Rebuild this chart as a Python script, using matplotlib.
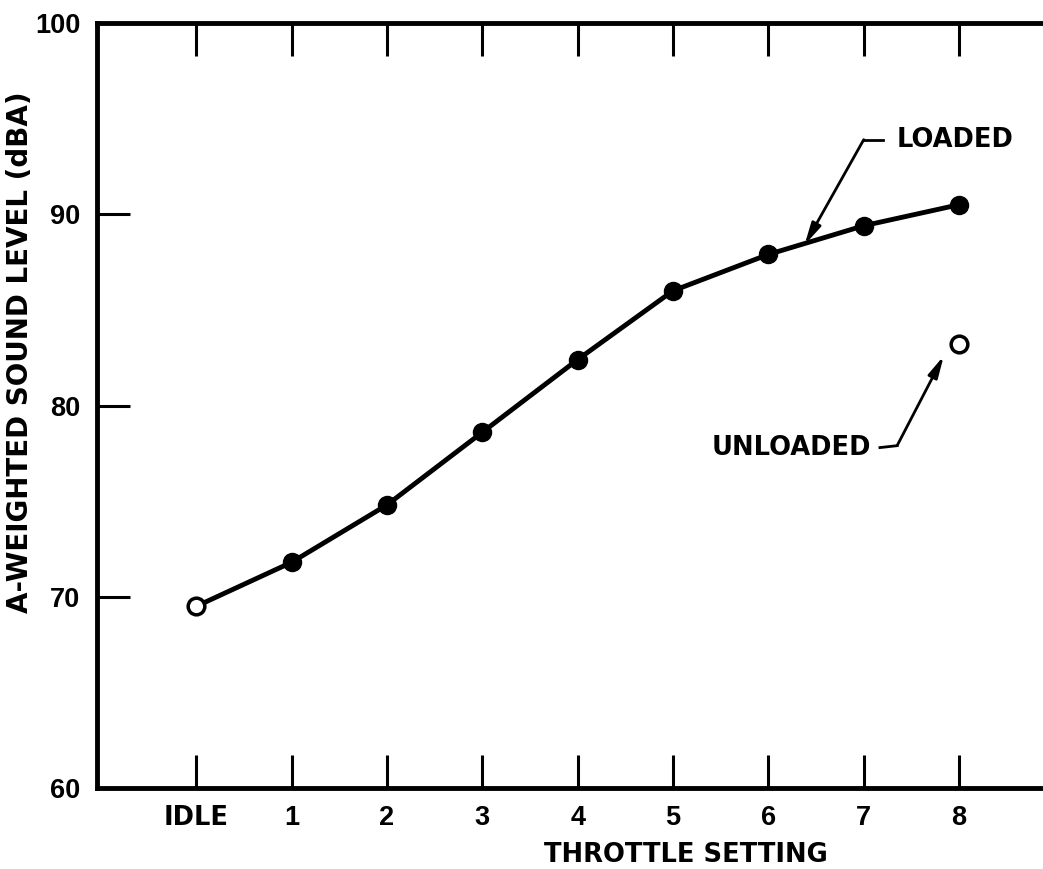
import matplotlib
matplotlib.use("Agg")
import matplotlib.pyplot as plt

# Data
settings = ["IDLE", "1", "2", "3", "4", "5", "6", "7", "8"]
positions = [0, 1, 2, 3, 4, 5, 6, 7, 8]
loaded_levels = [69.5, 71.8, 74.8, 78.6, 82.4, 86.0, 87.9, 89.4, 90.5]
unloaded_x = [8]
unloaded_levels = [83.2]
y_ticks = [60, 70, 80, 90, 100]

plt.rcParams['font.family'] = ['DejaVu Sans']
plt.rcParams['font.weight'] = 'bold'

FS = 18.5

fig = plt.figure(figsize=(10.43, 8.69), dpi=100)
ax = fig.add_axes([0.093, 0.0932, 0.907, 0.8803])

ax.plot(positions, loaded_levels, color='black', lw=3.5, zorder=2)
ax.plot(positions[1:], loaded_levels[1:], 'o', color='black', ms=13, zorder=3)
ax.plot(positions[0], loaded_levels[0], 'o', mfc='white', mec='black', mew=2.5, ms=12, zorder=3)
ax.plot(unloaded_x, unloaded_levels, 'o', mfc='white', mec='black', mew=2.5, ms=12, zorder=3)

ax.set_xlim(-1.04, 8.88)
ax.set_ylim(60, 100)
ax.set_xticks(positions)
ax.set_xticklabels(settings, fontsize=FS, fontweight='bold')
ax.set_yticks(y_ticks)
ax.set_yticklabels([str(v) for v in y_ticks], fontfamily=['Liberation Sans'],
                   fontsize=FS + 1, fontweight='bold')

for s in ['left', 'bottom', 'top']:
    ax.spines[s].set_linewidth(3.5)
ax.spines['right'].set_visible(False)

ax.tick_params(axis='x', direction='in', length=24, width=2.2, top=True, bottom=True, pad=12)
ax.tick_params(axis='y', direction='in', length=24, width=2.2, left=True, right=False, pad=12)
for t in ax.yaxis.get_major_ticks():
    if t.get_loc() in (60, 100):
        t.tick1line.set_visible(False)
        t.tick2line.set_visible(False)

for lab in ax.get_xticklabels():
    if lab.get_text() != "IDLE":
        lab.set_fontfamily(['Liberation Sans'])
        lab.set_fontsize(FS + 1)

ax.set_xlabel("THROTTLE SETTING", fontsize=FS, fontweight='bold', va='center')
ax.set_ylabel("A-WEIGHTED SOUND LEVEL (dBA)", fontsize=20, fontweight='bold', va='center')
ax.xaxis.set_label_coords(0.622, -0.0876)
ax.yaxis.set_label_coords(-0.081, 0.57)

# Annotations
arrow = dict(arrowstyle='-|>,head_length=1.3,head_width=0.3', color='black', lw=2.0,
             shrinkA=0, shrinkB=0)
ax.annotate("", xy=(6.38, 88.4), xytext=(7.0, 93.9), arrowprops=arrow)
ax.plot([7.0, 7.2], [93.9, 93.9], color='black', lw=2.0)
ax.text(7.35, 93.9, "LOADED", fontsize=FS, fontweight='bold', va='center', ha='left')

ax.annotate("", xy=(7.84, 82.6), xytext=(7.35, 77.9), arrowprops=arrow)
ax.plot([7.17, 7.35], [77.8, 77.9], color='black', lw=2.0)
ax.text(7.08, 77.8, "UNLOADED", fontsize=FS, fontweight='bold', va='center', ha='right')

fig.savefig("out.png", dpi=100)
